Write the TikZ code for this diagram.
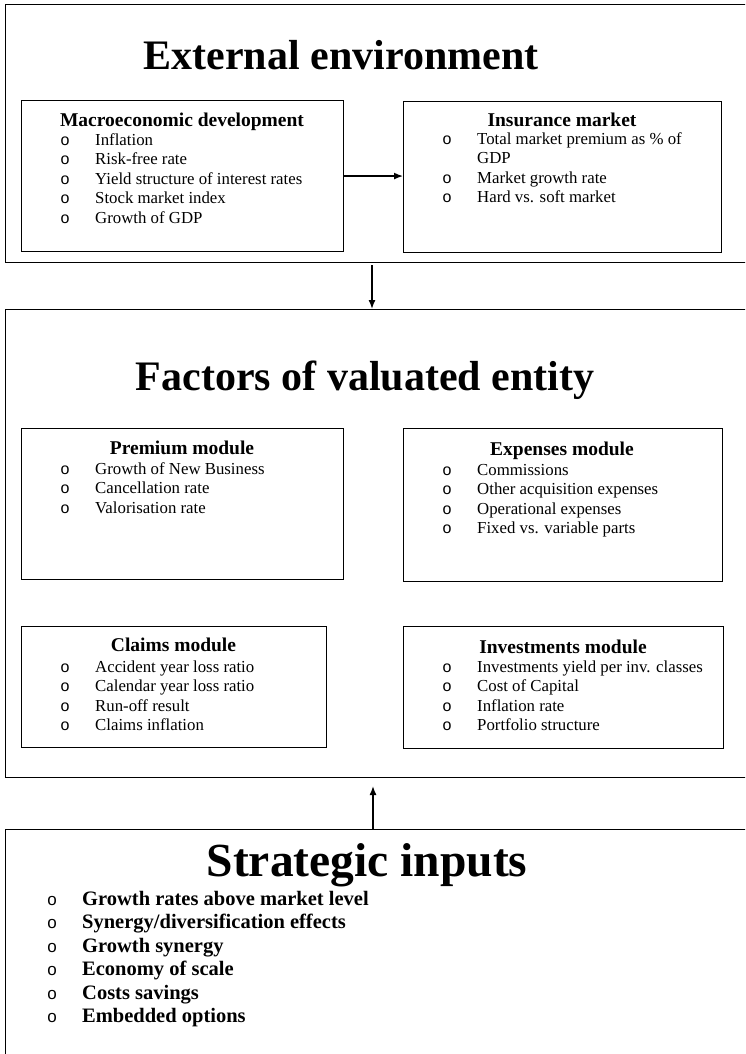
\documentclass[tikz,border=0pt]{standalone}
\usepackage{fontspec}
\setmainfont{Liberation Serif}
\newfontfamily\bulletfont{Liberation Sans}
\usetikzlibrary{arrows.meta}

% one bulleted list: prefix, bullet x, first baseline, line step, items
\newcommand\bulletlist[5]{%
  \foreach \txt [count=\i] in {#5} {
    \node[bul] (#1b\i) at (#2, #3+#4*\i-#4) {o};
    \node[item] (#1t\i) at (#2+30, #3+#4*\i-#4) {\txt};
  }}

\begin{document}
\begin{tikzpicture}[x=1pt,y=-1pt,
  frame/.style={draw, line width=1.4pt, minimum width=760, anchor=north west, inner sep=0pt},
  modbox/.style={draw, line width=1.1pt, anchor=north west, inner sep=0pt},
  bigtitle/.style={font=\fontsize{42}{48}\selectfont\bfseries, anchor=base, inner sep=0pt},
  modtitle/.style={font=\fontsize{19.5}{22}\selectfont\bfseries, anchor=base, inner sep=0pt},
  item/.style={font=\fontsize{16.8}{19}\selectfont, anchor=base west, inner sep=0pt},
  bul/.style={font=\bulletfont\fontsize{16}{18}\selectfont, anchor=base, inner sep=0pt},
  flow/.style={line width=1.4pt, -{Latex[length=9pt,width=7pt]}}
]
\path[use as bounding box, clip] (0,0) rectangle (745,1054);

% ---------- external environment ----------
\node[frame, minimum height=258] (env) at (5,4) {};
\node[bigtitle] (envtitle) at (341,70) {External environment};

\node[modbox, minimum width=322, minimum height=151] (macro) at (21,100) {};
\node[modtitle] (macrotitle) at (182,126) {Macroeconomic development};
\bulletlist{mac}{65}{145}{19.5}{Inflation, Risk-free rate, Yield structure of interest rates, Stock market index, Growth of GDP}

\node[modbox, minimum width=318, minimum height=151] (insur) at (403,101) {};
\node[modtitle] (insurtitle) at (562,126) {Insurance market};
\node[bul] (insb1) at (447,144) {o};
\node[item] (inst1) at (477,144) {Total market premium as \% of};
\node[item] (inst1b) at (477,163.5) {GDP};
\node[bul] (insb2) at (447,183) {o};
\node[item] (inst2) at (477,183) {Market growth rate};
\node[bul] (insb3) at (447,202.5) {o};
\node[item] (inst3) at (477,202.5) {Hard vs. soft market};

\draw[flow] (macro.east) -- (macro.east -| insur.west);

% ---------- factors of the valuated entity ----------
\node[frame, minimum height=468] (fac) at (5,309) {};
\node[bigtitle] (factitle) at (365,390) {Factors of valuated entity};

\node[modbox, minimum width=322, minimum height=151] (prem) at (21,428) {};
\node[modtitle] (premtitle) at (182,454) {Premium module};
\bulletlist{pre}{65}{474}{19.5}{Growth of New Business, Cancellation rate, Valorisation rate}

\node[modbox, minimum width=319, minimum height=153] (expn) at (403,428) {};
\node[modtitle] (expntitle) at (562,455) {Expenses module};
\bulletlist{exp}{447}{475}{19.5}{Commissions, Other acquisition expenses, Operational expenses, Fixed vs. variable parts}

\node[modbox, minimum width=305, minimum height=121] (claim) at (21,626) {};
\node[modtitle] (claimtitle) at (173.5,651) {Claims module};
\bulletlist{cla}{65}{672}{19.5}{Accident year loss ratio, Calendar year loss ratio, Run-off result, Claims inflation}

\node[modbox, minimum width=320, minimum height=122] (invest) at (403,626) {};
\node[modtitle] (investtitle) at (563,653) {Investments module};
\bulletlist{inv}{447}{672}{19.5}{Investments yield per inv. classes, Cost of Capital, Inflation rate, Portfolio structure}

% ---------- strategic inputs ----------
\node[frame, minimum height=240] (strat) at (5,829) {};
\node[bigtitle, font=\fontsize{47.5}{54}\selectfont\bfseries] (strattitle) at (367,876) {Strategic inputs};
\begin{scope}[item/.append style={font=\fontsize{20.5}{24}\selectfont\bfseries},
              bul/.append style={font=\bulletfont\fontsize{17}{19}\selectfont}]
\bulletlist{str}{52}{905}{23.5}{Growth rates above market level, Synergy/diversification effects, Growth synergy, Economy of scale, Costs savings, Embedded options}
\end{scope}

% ---------- connectors between the levels ----------
\coordinate (envout) at (372,265);
\coordinate (facin) at (373,786);
\draw[flow] (envout) -- (envout |- fac.north);
\draw[flow] (facin |- strat.north) -- (facin);
\end{tikzpicture}
\end{document}
